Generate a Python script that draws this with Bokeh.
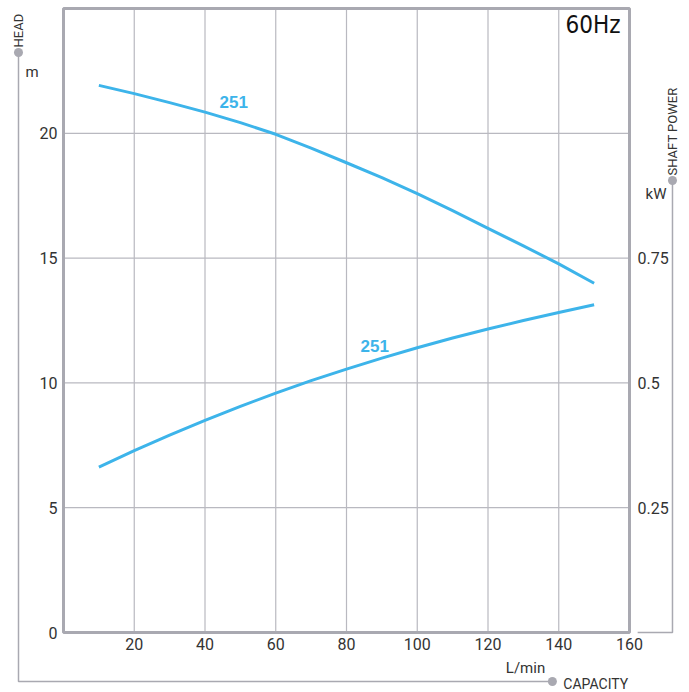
from math import pi
from bokeh.plotting import figure
from bokeh.models import Range1d, LinearAxis, FixedTicker, Label, ColumnDataSource
from bokeh.embed import file_html
from bokeh.resources import INLINE

# ---- data ----
capacity = [10, 20, 30, 40, 50, 60, 70, 80, 90, 100, 110, 120, 130, 140, 150]
head = [21.92, 21.59, 21.23, 20.85, 20.43, 19.96, 19.41, 18.82, 18.22, 17.58,
        16.90, 16.19, 15.49, 14.77, 13.99]
power = [0.3315, 0.3645, 0.3955, 0.425, 0.453, 0.4795, 0.5045, 0.5275, 0.5495,
         0.5705, 0.590, 0.608, 0.625, 0.641, 0.6565]
x_ticks = [20, 40, 60, 80, 100, 120, 140, 160]
head_ticks = [0, 5, 10, 15, 20]
power_ticks = [0.25, 0.5, 0.75]
power_tick_labels = {0.25: "0.25", 0.5: "0.5", 0.75: "0.75"}
x_max, head_max, kw_per_m = 160, 25, 1 / 20
curve_name = "251"
freq_label = "60Hz"

BLUE = "#3db4ea"
GRAY = "#a9a9b1"
GRID = "#b9b9c0"
TXT = "#333333"
FONT = "Roboto"

# frame covers whole canvas; the chart box is drawn inside via scales
X0, X1 = -17.809, 176.96
Y0, Y1 = -2.4038, 25.3205
p = figure(width=689, height=692, output_backend="svg", toolbar_location=None,
           x_range=Range1d(X0, X1), y_range=Range1d(Y0, Y1),
           min_border=0, background_fill_color="white", border_fill_color="white")
p.outline_line_color = None
p.extra_y_ranges = {"kw": Range1d(Y0 * kw_per_m, Y1 * kw_per_m)}
p.xgrid.visible = False
p.ygrid.visible = False

def style_axis(ax, standoff):
    ax.axis_line_color = None
    ax.major_tick_line_color = None
    ax.minor_tick_line_color = None
    ax.major_tick_in = 0
    ax.major_tick_out = 0
    ax.minor_tick_in = 0
    ax.minor_tick_out = 0
    ax.major_label_text_font = FONT
    ax.major_label_text_font_size = "16px"
    ax.major_label_text_color = TXT
    ax.major_label_standoff = standoff

p.xaxis.ticker = FixedTicker(ticks=x_ticks)
p.xaxis.fixed_location = 0
style_axis(p.xaxis[0], 5)
p.yaxis.ticker = FixedTicker(ticks=head_ticks)
p.yaxis.fixed_location = 0
style_axis(p.yaxis[0], 6)

right = LinearAxis(y_range_name="kw", ticker=FixedTicker(ticks=power_ticks),
                   major_label_overrides=power_tick_labels, fixed_location=x_max)
style_axis(right, 8)
p.add_layout(right, "right")

# grid lines limited to the chart box
p.segment(x0=x_ticks, y0=[0] * len(x_ticks), x1=x_ticks, y1=[head_max] * len(x_ticks),
          line_color=GRID, line_width=1.2)
p.segment(x0=[0] * len(head_ticks), y0=head_ticks, x1=[x_max] * len(head_ticks),
          y1=head_ticks, line_color=GRID, line_width=1.2)

# curves
src = ColumnDataSource(dict(q=capacity, h=head, pw=power))
p.line("q", "h", source=src, line_color=BLUE, line_width=3, line_join="round")
p.line("q", "pw", source=src, line_color=BLUE, line_width=3, line_join="round",
       y_range_name="kw")

# chart box
p.quad(left=[0], right=[x_max], bottom=[0], top=[head_max], fill_color=None,
       line_color=GRAY, line_width=3)

# curve labels
for xx, yy in ((44.1, 21.234), (83.96, 11.478)):
    p.add_layout(Label(x=xx, y=yy, text=curve_name, text_font="Liberation Sans",
                       text_font_style="bold", text_font_size="17px",
                       text_color=BLUE, text_baseline="middle", text_align="left"))

p.add_layout(Label(x=157.45, y=24.319, text=freq_label,
                   text_font="Liberation Sans Narrow, DejaVu Sans Condensed, Roboto",
                   text_font_size="24px", text_color="#111111",
                   text_baseline="middle", text_align="right"))

# decorations outside the chart box
p.line([-12.72, -12.72, 138.2], [23.237, -1.963, -1.963], line_color=GRAY, line_width=1.5)
p.line([172.15, 172.15, 162.3], [18.109, 0.0, 0.0], line_color=GRAY, line_width=1.5)
p.scatter([-12.72, 138.2, 172.15], [23.237, -1.963, 18.109], size=9,
          fill_color=GRAY, line_color=None)

def lab(x, y, t, size, align="left", angle=0.0):
    p.add_layout(Label(x=x, y=y, text=t, angle=angle, text_font=FONT,
                       text_font_size=size, text_color=TXT, text_baseline="middle",
                       text_align=align))

lab(-12.72, 23.438, "HEAD", "13px", angle=pi / 2)
lab(-10.74, 22.436, "m", "15px")
lab(172.15, 18.309, "SHAFT POWER", "13px", angle=pi / 2)
lab(170.46, 17.588, "kW", "15px", align="right")
lab(130.6, -1.442, "L/min", "15px", align="center")
lab(141.3, -2.083, "CAPACITY", "14px")

open("out.html", "w").write(file_html(p, INLINE))
